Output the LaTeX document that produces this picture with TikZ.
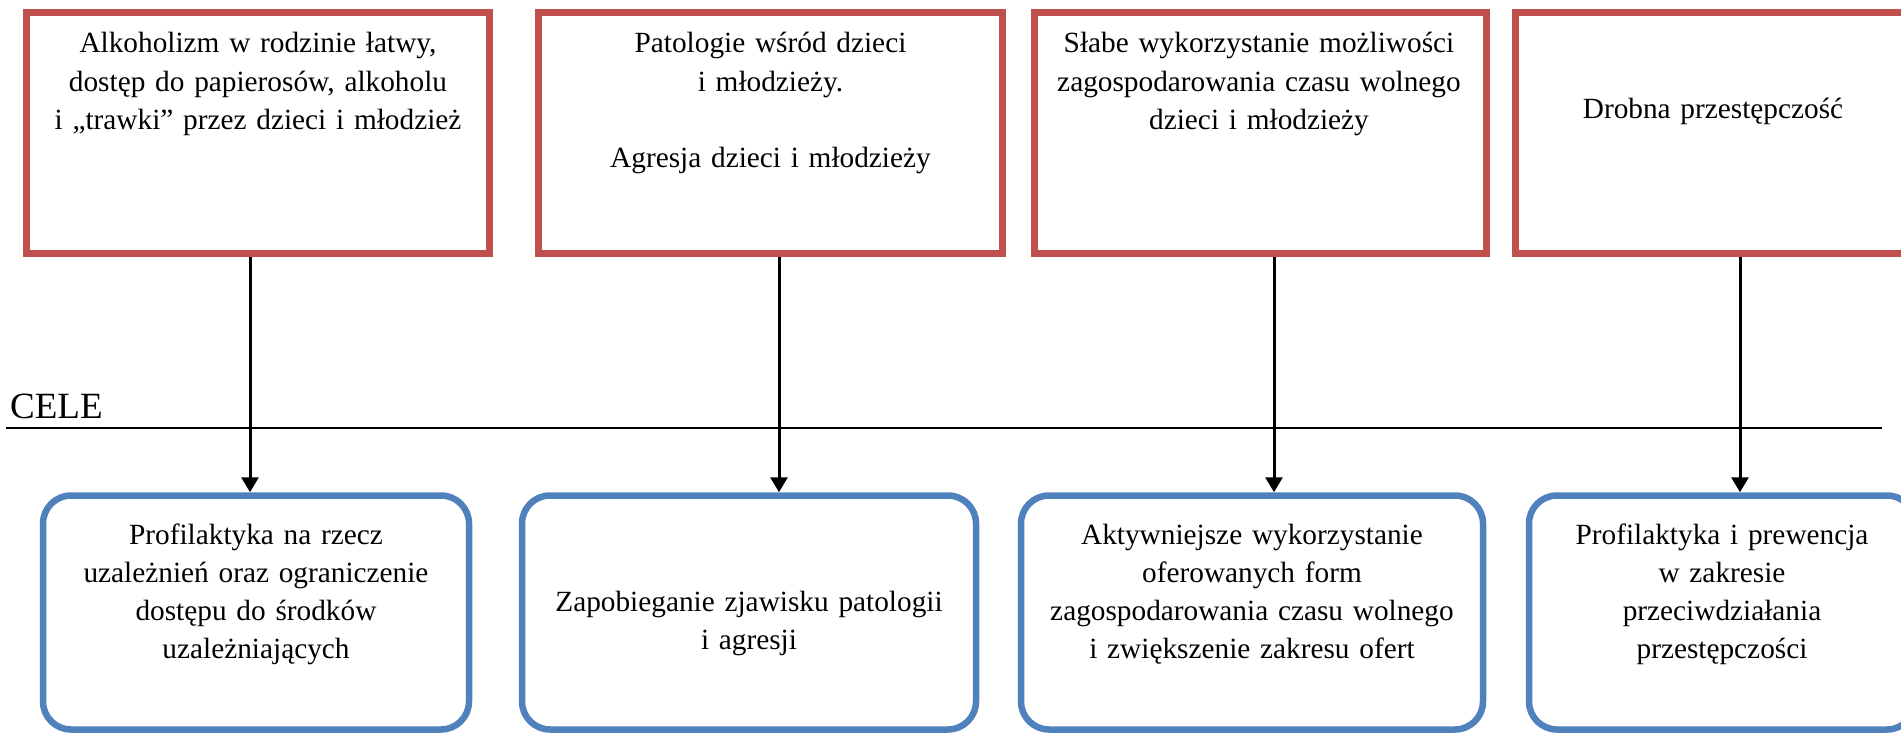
\documentclass[tikz,border=0pt]{standalone}
\usepackage{fontspec}
\setmainfont{Liberation Serif}
\usetikzlibrary{arrows.meta}
\definecolor{probred}{HTML}{C0504D}
\definecolor{goalblue}{HTML}{4F81BD}
\begin{document}
\begin{tikzpicture}[x=1pt,y=-1pt,
  probbox/.style={draw=probred, line width=6.8pt, inner sep=0pt, fill=white},
  goalbox/.style={draw=goalblue, line width=6.5pt, inner sep=0pt, rounded corners=28pt, fill=white},
  txt/.style={font=\fontsize{29.3}{38.3}\selectfont, align=center, text width=460pt, anchor=base, inner sep=0pt},
  arr/.style={line width=3pt, -{Triangle[width=17pt,length=15pt]}},
  rule/.style={line width=2.8pt}
]
\useasboundingbox (0,0) rectangle (1901,733);

% problem boxes (red)
\node[probbox, minimum width=463pt, minimum height=241pt] (r1) at (258,133) {};
\node[probbox, minimum width=464pt, minimum height=241pt] (r2) at (770.5,133) {};
\node[probbox, minimum width=452pt, minimum height=241pt] (r3) at (1260.5,133) {};
\node[probbox, minimum width=395pt, minimum height=241pt] (r4) at (1713,133) {};

\node[txt] (t1) at (258,53) {Alkoholizm w rodzinie łatwy,\\dostęp do papierosów, alkoholu\\i „trawki” przez dzieci i młodzież};
\node[txt] (t2) at (770.5,53) {Patologie wśród dzieci\\i młodzieży.\\[38.3pt]Agresja dzieci i młodzieży};
\node[txt] (t3) at (1259,53) {Słabe wykorzystanie możliwości\\zagospodarowania czasu wolnego\\dzieci i młodzieży};
\node[txt] (t4) at (1713,119) {Drobna przestępczość};

% goal boxes (blue)
\node[goalbox, minimum width=426pt, minimum height=234pt] (b1) at (256,612.5) {};
\node[goalbox, minimum width=454pt, minimum height=234pt] (b2) at (749,612.5) {};
\node[goalbox, minimum width=462pt, minimum height=234pt] (b3) at (1252,612.5) {};
\node[goalbox, minimum width=386pt, minimum height=234pt] (b4) at (1722,612.5) {};

\node[txt] (g1) at (256,544) {Profilaktyka na rzecz\\uzależnień oraz ograniczenie\\dostępu do środków\\uzależniających};
\node[txt] (g2) at (749,611) {Zapobieganie zjawisku patologii\\i agresji};
\node[txt] (g3) at (1252,544) {Aktywniejsze wykorzystanie\\oferowanych form\\zagospodarowania czasu wolnego\\i zwiększenie zakresu ofert};
\node[txt] (g4) at (1722,544) {Profilaktyka i prewencja\\w zakresie\\przeciwdziałania\\przestępczości};

% CELE line
\node[font=\fontsize{37}{40}\selectfont, anchor=base west, inner sep=0pt] (cele) at (10,418) {CELE};
\coordinate (hl1) at (6,428);
\coordinate (hl2) at (1882,428);
\draw[rule] (hl1) -- (hl2);

% arrows
\coordinate (ax1) at (250,0);
\coordinate (ax2) at (779,0);
\coordinate (ax3) at (1274,0);
\coordinate (ax4) at (1740,0);
\draw[arr] (r1.south -| ax1) -- (b1.north -| ax1);
\draw[arr] (r2.south -| ax2) -- (b2.north -| ax2);
\draw[arr] (r3.south -| ax3) -- (b3.north -| ax3);
\draw[arr] (r4.south -| ax4) -- (b4.north -| ax4);
\end{tikzpicture}
\end{document}
